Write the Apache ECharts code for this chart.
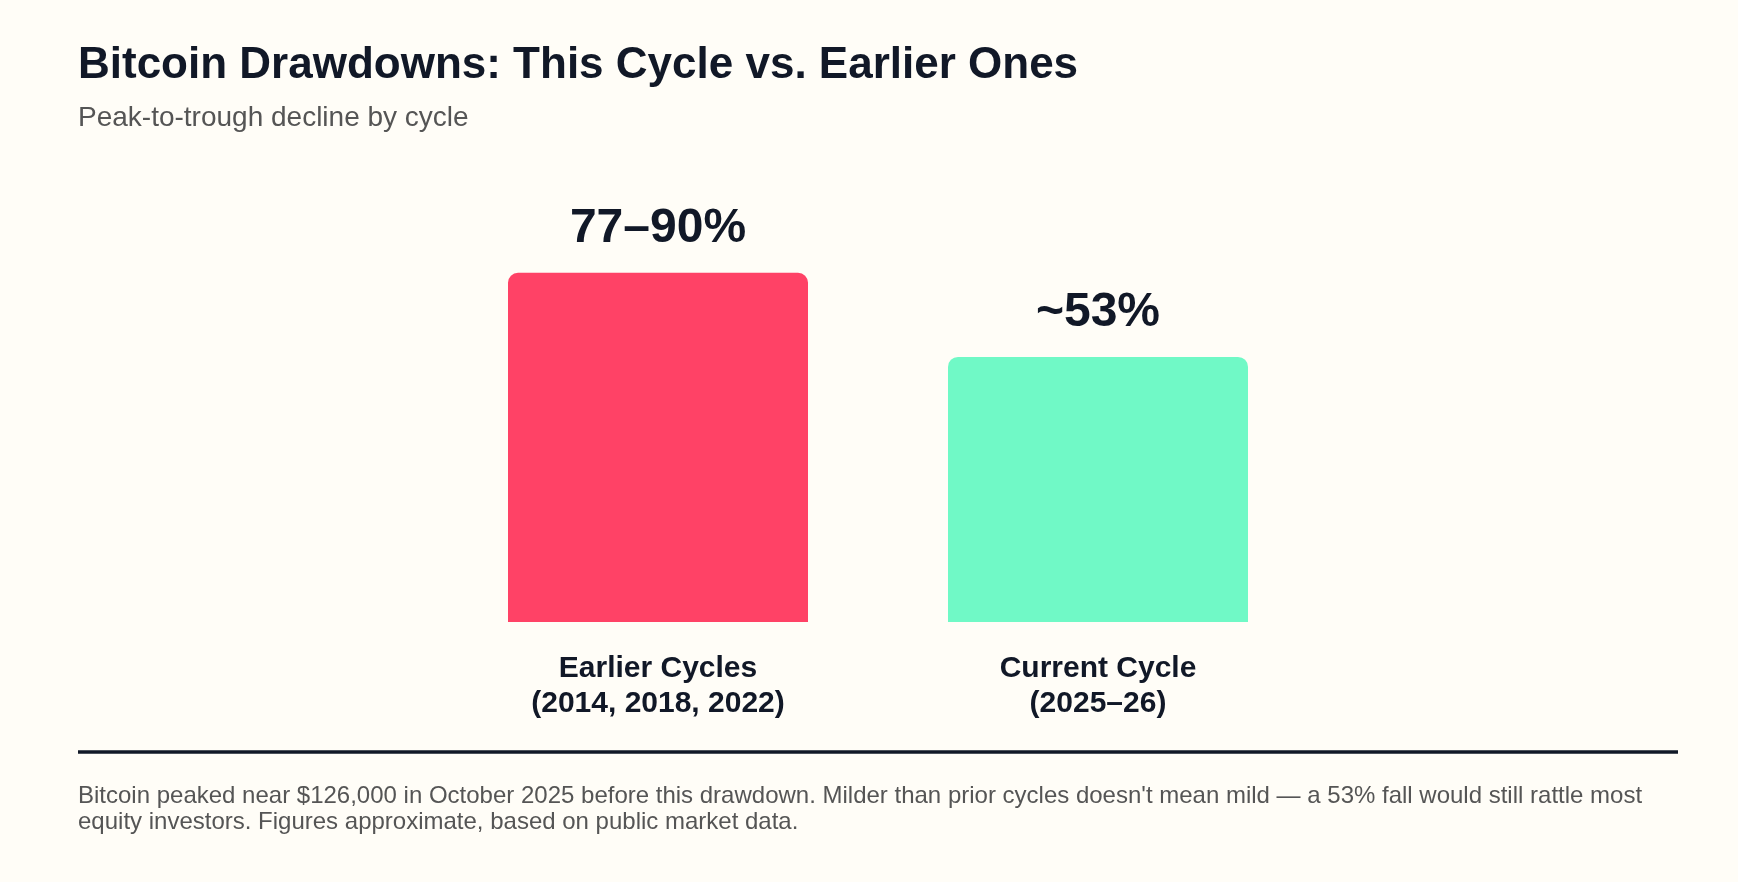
<!DOCTYPE html>
<html>
<head>
<meta charset="utf-8">
<title>Bitcoin Drawdowns</title>
<script src="https://cdn.jsdelivr.net/npm/echarts@6/dist/echarts.min.js"></script>
<style>
  html, body { margin: 0; padding: 0; background: #fffdf7; }
  #chart { width: 1738px; height: 882px; }
</style>
</head>
<body>
<div id="chart"></div>
<script>
// data
const categories = ['Earlier Cycles\n(2014, 2018, 2022)', 'Current Cycle\n(2025–26)'];
const drawdowns = [90, 53];
const valueLabels = ['77–90%', '~53%'];
const barColors = ['#ff4266', '#70f9c6'];

const titleText = 'Bitcoin Drawdowns: This Cycle vs. Earlier Ones';
const subtitleText = 'Peak-to-trough decline by cycle';
const noteText = 'Bitcoin peaked near $126,000 in October 2025 before this drawdown. Milder than prior cycles doesn\'t mean mild — a 53% fall would still rattle most\n' +
  'equity investors. Figures approximate, based on public market data.';

const ink = '#111827';
const grey = '#555555';
const font = '"Liberation Sans", Arial, Helvetica, sans-serif';

const chart = echarts.init(document.getElementById('chart'));

chart.setOption({
  backgroundColor: '#fffdf7',
  textStyle: { fontFamily: font },
  title: [
    {
      text: titleText,
      left: 78, top: 44, padding: 0,
      textStyle: { fontSize: 44, fontWeight: 'bold', color: ink, lineHeight: 44, fontFamily: font }
    },
    {
      text: subtitleText,
      left: 78, top: 104, padding: 0,
      textStyle: { fontSize: 28, fontWeight: 'normal', color: grey, lineHeight: 28, fontFamily: font }
    },
    {
      text: noteText,
      left: 78, top: 783, padding: 0,
      textStyle: { fontSize: 24, fontWeight: 'normal', color: grey, lineHeight: 26, fontFamily: font }
    }
  ],
  grid: { left: 438, right: 420, top: 256, bottom: 260 },
  xAxis: {
    type: 'category',
    data: categories,
    axisLine: { show: false },
    axisTick: { show: false },
    axisLabel: {
      margin: 29,
      fontSize: 30,
      lineHeight: 35,
      fontWeight: 'bold',
      color: ink,
      fontFamily: font
    }
  },
  yAxis: {
    type: 'log',
    min: 10,
    max: 100,
    show: false,
    splitLine: { show: false }
  },
  series: [{
    type: 'bar',
    clip: true,
    barWidth: 300,
    data: drawdowns.map((v, i) => ({ value: v, itemStyle: { color: barColors[i] } })),
    itemStyle: { borderRadius: [10, 10, 0, 0] },
    label: {
      show: true,
      position: 'top',
      distance: 20,
      fontSize: 48,
      lineHeight: 48,
      fontWeight: 'bold',
      color: ink,
      fontFamily: font,
      formatter: p => valueLabels[p.dataIndex]
    },
    emphasis: { disabled: true },
    animation: false
  }],
  graphic: [{
    type: 'line',
    shape: { x1: 78, y1: 752, x2: 1678, y2: 752 },
    style: { stroke: ink, lineWidth: 3.5 }
  }]
});

window.addEventListener('resize', () => chart.resize());
</script>
</body>
</html>
